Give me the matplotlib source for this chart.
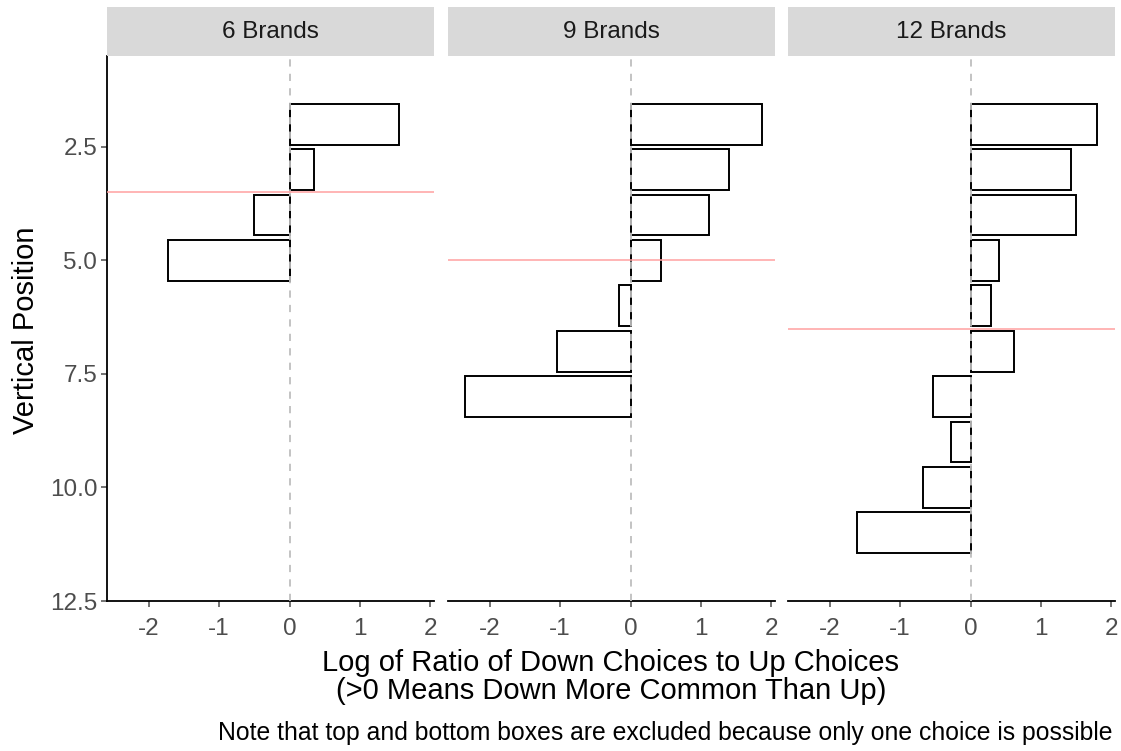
import matplotlib
matplotlib.use("Agg")
import matplotlib.pyplot as plt
from matplotlib.patches import Rectangle

plt.rcParams['font.family'] = ['Liberation Sans', 'DejaVu Sans']

# Log ratio of down choices to up choices, by vertical position (2 .. n-1)
panel_titles = ["6 Brands", "9 Brands", "12 Brands"]
n_brands = [6, 9, 12]
log_ratio_6 = [1.55, 0.35, -0.50, -1.72]
log_ratio_9 = [1.86, 1.40, 1.12, 0.43, -0.16, -1.04, -2.35]
log_ratio_12 = [1.80, 1.43, 1.49, 0.41, 0.29, 0.61, -0.53, -0.28, -0.68, -1.61]
series = [log_ratio_6, log_ratio_9, log_ratio_12]

y_ticks = [2.5, 5.0, 7.5, 10.0, 12.5]
x_ticks = [-2, -1, 0, 1, 2]

W, H = 1121, 751
fig = plt.figure(figsize=(W / 100, H / 100), dpi=100)

panel_left = [107, 448, 788]
panel_w = 327
plot_top, plot_bot = 56, 601
strip_top = 7

tick_color = "#4D4D4D"
tick_fs = 17.5
title_fs = 21

for i, (lefts, vals, n, title) in enumerate(zip(panel_left, series, n_brands, panel_titles)):
    ax = fig.add_axes([lefts / W, 1 - plot_bot / H, panel_w / W, (plot_top - plot_bot) / -H])
    positions = list(range(2, n))
    ax.barh(positions, vals, height=0.9, left=0, color="white",
            edgecolor="black", linewidth=1.4, zorder=2)
    ax.axvline(0, color="#BEBEBE", linestyle=(0, (4, 4)), linewidth=1.3, zorder=3)
    ax.axhline((n + 1) / 2, color="#FFA0A0", linewidth=1.1, zorder=4)
    ax.set_xlim(-2.59, 2.05)
    ax.set_ylim(12.5, 0.5)
    ax.set_xticks(x_ticks)
    ax.set_xticklabels([str(t) for t in x_ticks])
    ax.set_yticks(y_ticks)
    ax.set_yticklabels([f"{t:.1f}" for t in y_ticks])
    for s in ["top", "right"]:
        ax.spines[s].set_visible(False)
    ax.spines["bottom"].set_linewidth(1.3)
    ax.spines["left"].set_linewidth(1.3)
    ax.tick_params(axis="both", colors=tick_color, labelsize=tick_fs, length=4, width=1.1,
                   pad=3)
    ax.tick_params(axis="x", pad=8)
    if i > 0:
        ax.spines["left"].set_visible(False)
        ax.tick_params(axis="y", left=False, labelleft=False)

    # facet strip
    sax = fig.add_axes([lefts / W, 1 - plot_top / H, panel_w / W, (plot_top - strip_top) / H])
    sax.set_xlim(0, 1)
    sax.set_ylim(0, 1)
    sax.add_patch(Rectangle((0, 0), 1, 1, facecolor="#D9D9D9", edgecolor="none"))
    sax.text(0.5, 0.5, title, ha="center", va="center", fontsize=tick_fs, color="#1A1A1A")
    sax.axis("off")

# axis titles and note
fig.text(611 / W, 1 - 677 / H,
         "Log of Ratio of Down Choices to Up Choices\n(>0 Means Down More Common Than Up)",
         ha="center", va="center", fontsize=title_fs, color="black", linespacing=1.0)
fig.text(26 / W, 1 - 330 / H, "Vertical Position", rotation=90, ha="center", va="center",
         fontsize=title_fs, color="black")
fig.text(1113 / W, 1 - 733 / H,
         "Note that top and bottom boxes are excluded because only one choice is possible",
         ha="right", va="center", fontsize=17.8, color="black")

fig.savefig("out.png", dpi=100)
